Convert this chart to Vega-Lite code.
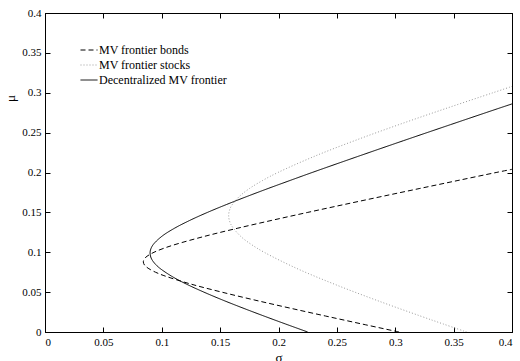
{
  "$schema": "https://vega.github.io/schema/vega-lite/v6.json",
  "width": 467,
  "height": 319,
  "autosize": {"type": "none"},
  "padding": {"left": 45, "top": 13, "right": 8, "bottom": 29},
  "background": "white",
  "config": {
    "view": {"stroke": "black", "strokeWidth": 1},
    "font": "Liberation Serif",
    "axis": {
      "labelFont": "Liberation Serif",
      "titleFont": "Liberation Serif",
      "labelFontSize": 11,
      "labelColor": "black",
      "domainColor": "black",
      "tickColor": "black",
      "grid": false,
      "tickSize": -5,
      "titleFontWeight": "normal",
      "titleColor": "black"
    }
  },
  "data": {
    "values": [
      {"series": "MV frontier bonds", "sigma": 0.3033, "mu": 0},
      {"series": "MV frontier bonds", "sigma": 0.2716, "mu": 0.01},
      {"series": "MV frontier bonds", "sigma": 0.2404, "mu": 0.02},
      {"series": "MV frontier bonds", "sigma": 0.2097, "mu": 0.03},
      {"series": "MV frontier bonds", "sigma": 0.1798, "mu": 0.04},
      {"series": "MV frontier bonds", "sigma": 0.1514, "mu": 0.05},
      {"series": "MV frontier bonds", "sigma": 0.1252, "mu": 0.06},
      {"series": "MV frontier bonds", "sigma": 0.1032, "mu": 0.07},
      {"series": "MV frontier bonds", "sigma": 0.0946, "mu": 0.075},
      {"series": "MV frontier bonds", "sigma": 0.0883, "mu": 0.08},
      {"series": "MV frontier bonds", "sigma": 0.0852, "mu": 0.084},
      {"series": "MV frontier bonds", "sigma": 0.0842, "mu": 0.088},
      {"series": "MV frontier bonds", "sigma": 0.0853, "mu": 0.092},
      {"series": "MV frontier bonds", "sigma": 0.0874, "mu": 0.095},
      {"series": "MV frontier bonds", "sigma": 0.0934, "mu": 0.10},
      {"series": "MV frontier bonds", "sigma": 0.1018, "mu": 0.105},
      {"series": "MV frontier bonds", "sigma": 0.1122, "mu": 0.11},
      {"series": "MV frontier bonds", "sigma": 0.1368, "mu": 0.12},
      {"series": "MV frontier bonds", "sigma": 0.1646, "mu": 0.13},
      {"series": "MV frontier bonds", "sigma": 0.1943, "mu": 0.14},
      {"series": "MV frontier bonds", "sigma": 0.2251, "mu": 0.15},
      {"series": "MV frontier bonds", "sigma": 0.2567, "mu": 0.16},
      {"series": "MV frontier bonds", "sigma": 0.2887, "mu": 0.17},
      {"series": "MV frontier bonds", "sigma": 0.3211, "mu": 0.18},
      {"series": "MV frontier bonds", "sigma": 0.3537, "mu": 0.19},
      {"series": "MV frontier bonds", "sigma": 0.3864, "mu": 0.20},
      {"series": "MV frontier bonds", "sigma": 0.4, "mu": 0.204},

      {"series": "MV frontier stocks", "sigma": 0.3611, "mu": 0},
      {"series": "MV frontier stocks", "sigma": 0.3412, "mu": 0.01},
      {"series": "MV frontier stocks", "sigma": 0.3216, "mu": 0.02},
      {"series": "MV frontier stocks", "sigma": 0.2836, "mu": 0.04},
      {"series": "MV frontier stocks", "sigma": 0.2478, "mu": 0.06},
      {"series": "MV frontier stocks", "sigma": 0.2152, "mu": 0.08},
      {"series": "MV frontier stocks", "sigma": 0.1877, "mu": 0.10},
      {"series": "MV frontier stocks", "sigma": 0.1765, "mu": 0.11},
      {"series": "MV frontier stocks", "sigma": 0.1676, "mu": 0.12},
      {"series": "MV frontier stocks", "sigma": 0.1592, "mu": 0.135},
      {"series": "MV frontier stocks", "sigma": 0.1573, "mu": 0.146},
      {"series": "MV frontier stocks", "sigma": 0.1586, "mu": 0.155},
      {"series": "MV frontier stocks", "sigma": 0.1605, "mu": 0.16},
      {"series": "MV frontier stocks", "sigma": 0.1665, "mu": 0.17},
      {"series": "MV frontier stocks", "sigma": 0.1752, "mu": 0.18},
      {"series": "MV frontier stocks", "sigma": 0.1864, "mu": 0.19},
      {"series": "MV frontier stocks", "sigma": 0.1995, "mu": 0.20},
      {"series": "MV frontier stocks", "sigma": 0.2303, "mu": 0.22},
      {"series": "MV frontier stocks", "sigma": 0.2653, "mu": 0.24},
      {"series": "MV frontier stocks", "sigma": 0.3031, "mu": 0.26},
      {"series": "MV frontier stocks", "sigma": 0.3428, "mu": 0.28},
      {"series": "MV frontier stocks", "sigma": 0.3837, "mu": 0.30},
      {"series": "MV frontier stocks", "sigma": 0.4, "mu": 0.308},

      {"series": "Decentralized MV frontier", "sigma": 0.2250, "mu": 0},
      {"series": "Decentralized MV frontier", "sigma": 0.2061, "mu": 0.01},
      {"series": "Decentralized MV frontier", "sigma": 0.1876, "mu": 0.02},
      {"series": "Decentralized MV frontier", "sigma": 0.1696, "mu": 0.03},
      {"series": "Decentralized MV frontier", "sigma": 0.1523, "mu": 0.04},
      {"series": "Decentralized MV frontier", "sigma": 0.1361, "mu": 0.05},
      {"series": "Decentralized MV frontier", "sigma": 0.1212, "mu": 0.06},
      {"series": "Decentralized MV frontier", "sigma": 0.1084, "mu": 0.07},
      {"series": "Decentralized MV frontier", "sigma": 0.0983, "mu": 0.08},
      {"series": "Decentralized MV frontier", "sigma": 0.0946, "mu": 0.085},
      {"series": "Decentralized MV frontier", "sigma": 0.0919, "mu": 0.09},
      {"series": "Decentralized MV frontier", "sigma": 0.0906, "mu": 0.094},
      {"series": "Decentralized MV frontier", "sigma": 0.0900, "mu": 0.099},
      {"series": "Decentralized MV frontier", "sigma": 0.0906, "mu": 0.104},
      {"series": "Decentralized MV frontier", "sigma": 0.0929, "mu": 0.11},
      {"series": "Decentralized MV frontier", "sigma": 0.1001, "mu": 0.12},
      {"series": "Decentralized MV frontier", "sigma": 0.1108, "mu": 0.13},
      {"series": "Decentralized MV frontier", "sigma": 0.1241, "mu": 0.14},
      {"series": "Decentralized MV frontier", "sigma": 0.1392, "mu": 0.15},
      {"series": "Decentralized MV frontier", "sigma": 0.1557, "mu": 0.16},
      {"series": "Decentralized MV frontier", "sigma": 0.1731, "mu": 0.17},
      {"series": "Decentralized MV frontier", "sigma": 0.1912, "mu": 0.18},
      {"series": "Decentralized MV frontier", "sigma": 0.2099, "mu": 0.19},
      {"series": "Decentralized MV frontier", "sigma": 0.2288, "mu": 0.20},
      {"series": "Decentralized MV frontier", "sigma": 0.2677, "mu": 0.22},
      {"series": "Decentralized MV frontier", "sigma": 0.3072, "mu": 0.24},
      {"series": "Decentralized MV frontier", "sigma": 0.3473, "mu": 0.26},
      {"series": "Decentralized MV frontier", "sigma": 0.3877, "mu": 0.28},
      {"series": "Decentralized MV frontier", "sigma": 0.4, "mu": 0.286}
    ]
  },
  "layer": [
    {
      "mark": {"type": "line", "strokeWidth": 1, "interpolate": "catmull-rom", "clip": true},
      "encoding": {
        "x": {
          "field": "sigma", "type": "quantitative",
          "scale": {"domain": [0, 0.4], "nice": false, "zero": false},
          "axis": {
            "orient": "bottom",
            "values": [0, 0.05, 0.1, 0.15, 0.2, 0.25, 0.3, 0.35, 0.4],
            "format": "~g",
            "labelPadding": 9,
            "title": "σ",
            "titleFontSize": 13,
            "titleY": 29,
            "titleBaseline": "alphabetic"
          }
        },
        "y": {
          "field": "mu", "type": "quantitative",
          "scale": {"domain": [0, 0.4], "nice": false, "zero": false},
          "axis": {
            "orient": "left",
            "values": [0, 0.05, 0.1, 0.15, 0.2, 0.25, 0.3, 0.35, 0.4],
            "format": "~g",
            "labelPadding": 9,
            "title": "μ",
            "titleFontSize": 13,
            "titleX": -35,
            "titleY": 85,
            "titleBaseline": "middle"
          }
        },
        "order": {"field": "mu", "type": "quantitative"},
        "color": {
          "field": "series", "type": "nominal",
          "scale": {
            "domain": ["MV frontier bonds", "MV frontier stocks", "Decentralized MV frontier"],
            "range": ["black", "#9a9a9a", "black"]
          },
          "legend": {
            "title": null,
            "orient": "none",
            "legendX": 35,
            "legendY": 28,
            "padding": 0,
            "symbolType": "stroke",
            "symbolSize": 289,
            "symbolStrokeWidth": 1,
            "labelFont": "Liberation Serif",
            "labelFontSize": 12,
            "labelColor": "black",
            "labelOffset": 1,
            "rowPadding": -4
          }
        },
        "strokeDash": {
          "field": "series", "type": "nominal",
          "scale": {
            "domain": ["MV frontier bonds", "MV frontier stocks", "Decentralized MV frontier"],
            "range": [[5, 3], [1, 2], [1, 0]]
          },
          "legend": {
            "title": null,
            "orient": "none",
            "legendX": 35,
            "legendY": 28,
            "padding": 0,
            "symbolType": "stroke",
            "symbolSize": 289,
            "symbolStrokeWidth": 1,
            "labelFont": "Liberation Serif",
            "labelFontSize": 12,
            "labelColor": "black",
            "labelOffset": 1,
            "rowPadding": -4
          }
        }
      }
    },
    {
      "mark": {"type": "line", "strokeOpacity": 0},
      "encoding": {
        "x": {
          "field": "sigma", "type": "quantitative",
          "axis": {
            "orient": "top",
            "values": [0, 0.05, 0.1, 0.15, 0.2, 0.25, 0.3, 0.35, 0.4],
            "labels": false,
            "title": null
          }
        },
        "y": {
          "field": "mu", "type": "quantitative",
          "axis": {
            "orient": "right",
            "values": [0, 0.05, 0.1, 0.15, 0.2, 0.25, 0.3, 0.35, 0.4],
            "labels": false,
            "title": null
          }
        },
        "detail": {"field": "series"},
        "order": {"field": "mu", "type": "quantitative"}
      }
    }
  ],
  "resolve": {"axis": {"x": "independent", "y": "independent"}}
}
